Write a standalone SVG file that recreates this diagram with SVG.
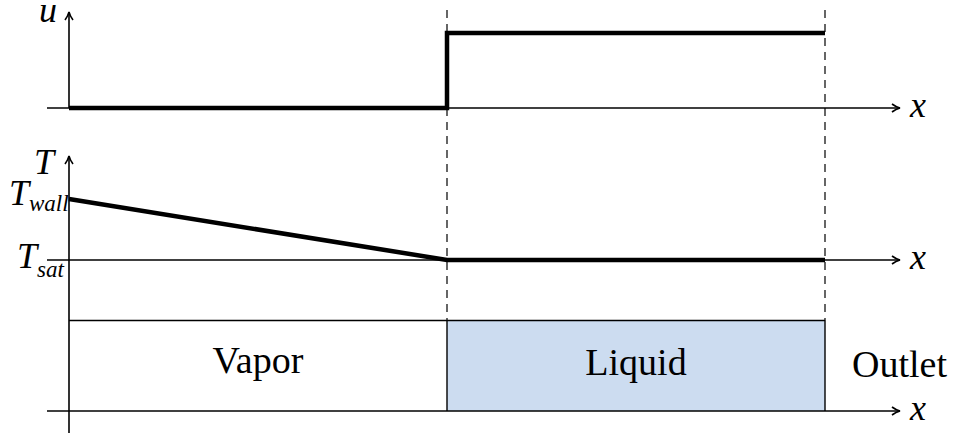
<svg xmlns="http://www.w3.org/2000/svg" width="954" height="437" viewBox="0 0 954 437">
<defs>
<marker id="arr" viewBox="0 0 10 10" refX="9" refY="5" markerWidth="10" markerHeight="10" markerUnits="userSpaceOnUse" orient="auto">
<path d="M1,1 Q5,4 9,5 Q5,6 1,9" fill="none" stroke="#000" stroke-width="1.6"/>
</marker>
</defs>
<style>
.ax{stroke:#000;stroke-width:1.6;fill:none}
.th{stroke:#000;stroke-width:4.5;fill:none}
.ds{stroke:#000;stroke-width:1.2;stroke-dasharray:8,6;fill:none}
.bx{stroke:#000;stroke-width:1.4}
.lb{font-family:"Liberation Serif","Times New Roman",serif;font-style:italic;font-size:36px;fill:#000}
.tx{font-family:"Liberation Serif","Times New Roman",serif;font-size:38px;fill:#000}
</style>
<rect id="liquid-box" x="447" y="320" width="378" height="91" fill="#ccdcf0"/>
<g id="connectors">
<line class="ds" x1="447" y1="10" x2="447" y2="320"/>
<line class="ds" x1="825" y1="10" x2="825" y2="320"/>
<line class="ax" x1="69" y1="108" x2="69" y2="12" marker-end="url(#arr)"/>
<line class="ax" x1="47" y1="108" x2="900" y2="108" marker-end="url(#arr)"/>
<line class="ax" x1="69" y1="433" x2="69" y2="156" marker-end="url(#arr)"/>
<line class="ax" x1="47" y1="260" x2="900" y2="260" marker-end="url(#arr)"/>
<line class="ax" x1="47" y1="411" x2="900" y2="411" marker-end="url(#arr)"/>
<line class="bx" x1="69" y1="320.5" x2="825" y2="320.5"/>
<line class="bx" x1="447" y1="320" x2="447" y2="411"/>
<line class="bx" x1="825" y1="320" x2="825" y2="411"/>
<polyline class="th" points="69,108 447,108 447,33 825,33"/>
<polyline class="th" points="69,199 447,260 825,260"/>
</g>
<g id="labels">
<text class="lb" x="39" y="22">u</text>
<text class="lb" x="34" y="174">T</text>
<text class="lb" x="9" y="205">T<tspan font-size="23" dy="6">wall</tspan></text>
<text class="lb" x="17" y="268">T<tspan font-size="23" dy="9">sat</tspan></text>
<text class="lb" x="910" y="117">x</text>
<text class="lb" x="910" y="269">x</text>
<text class="lb" x="910" y="420">x</text>
</g>
<g id="vapor"><text class="tx" x="258" y="373" text-anchor="middle">Vapor</text></g>
<g id="liquid"><text class="tx" x="636" y="375" text-anchor="middle">Liquid</text></g>
<g id="outlet"><text class="tx" x="852" y="377">Outlet</text></g>
</svg>
